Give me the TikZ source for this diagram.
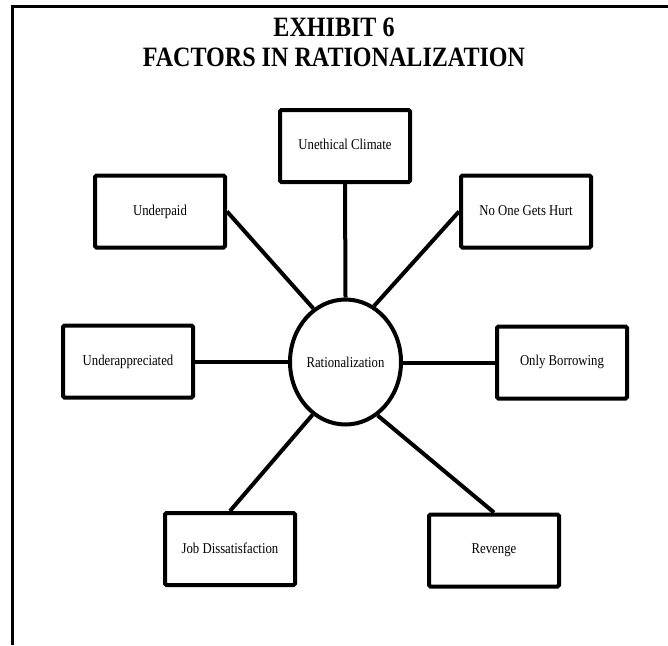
\documentclass[tikz,border=0pt]{standalone}
\usepackage{fontspec}
\setmainfont{Liberation Serif}
\newfontfamily\labelfont[FakeStretch=0.85]{Liberation Serif}
\newfontfamily\titlefont[FakeStretch=0.86]{Liberation Serif}
\usetikzlibrary{shapes.geometric}
\begin{document}
\begin{tikzpicture}[x=1pt,y=-1pt,
  factor/.style={draw, line width=4pt, rounded corners=1.5pt, minimum width=130pt, minimum height=72pt, inner sep=0pt, fill=white, font=\labelfont\fontsize{15}{18}\selectfont},
  hub/.style={draw, ellipse, line width=4pt, minimum width=111pt, minimum height=125pt, inner sep=0pt, fill=white, font=\labelfont\fontsize{15}{18}\selectfont},
  link/.style={line width=4pt},
  frame/.style={line width=3pt},
  title/.style={align=center, font=\titlefont\bfseries\fontsize{28}{30}\selectfont}]
\useasboundingbox (0,0) rectangle (668,645);
\coordinate (tr) at (668,6);
\coordinate (tl) at (12,6);
\coordinate (bl) at (12,645);
\draw[frame] (tr) -- (tl) -- (bl);
\node[title] (ttl) at (334,42) {EXHIBIT 6\\FACTORS IN RATIONALIZATION};

\node[hub] (rat) at (345.5,362) {Rationalization};
\node[factor] (uc) at (345,146) {\raisebox{3pt}{Unethical Climate}};
\node[factor] (up) at (160,211.5) {\raisebox{2pt}{Underpaid}};
\node[factor] (no) at (526,211.5) {\raisebox{2pt}{No One Gets Hurt}};
\node[factor] (ua) at (128,361.5) {\raisebox{2pt}{Underappreciated}};
\node[factor] (ob) at (562,362.5) {\raisebox{4pt}{Only Borrowing}};
\node[factor] (jd) at (230,549) {\raisebox{2pt}{Job Dissatisfaction}};
\node[factor] (rv) at (494,550.5) {\raisebox{3pt}{Revenge}};

\draw[link] (uc.south) -- (rat.north);
\draw[link] (up.east) -- (rat.121);
\draw[link] (no.west) -- (rat.63);
\draw[link] (ua.east) -- (ua.east -| rat.west);
\draw[link] (ob.west) -- (ob.west -| rat.east);
\draw[link] (jd.north) -- (rat.238);
\draw[link] (rv.north) -- (rat.301);
\end{tikzpicture}
\end{document}
